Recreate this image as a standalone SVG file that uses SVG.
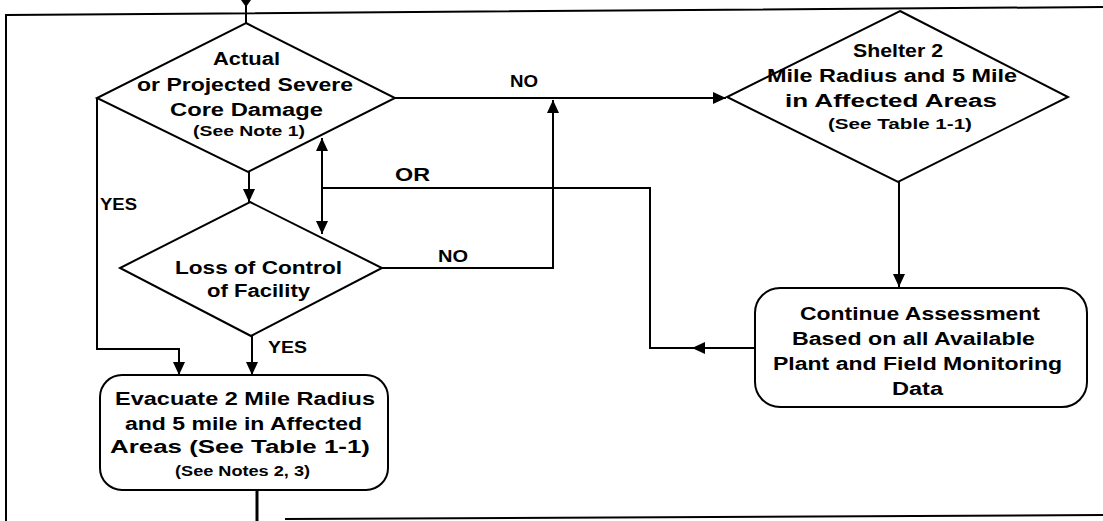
<svg xmlns="http://www.w3.org/2000/svg" width="1103" height="521" viewBox="0 0 1103 521">
<style>
.shape{fill:#fff;stroke:#000;stroke-width:2}
.ln{fill:none;stroke:#000;stroke-width:2}
.t{font-family:"Liberation Sans",Arial,sans-serif;font-weight:bold;font-size:18px;fill:#000}
.s{font-size:14px}
.l{font-size:16px}
</style>
<defs>
<marker id="ah" markerUnits="userSpaceOnUse" markerWidth="14" markerHeight="12" refX="13" refY="6" orient="auto">
<path d="M0,0 L13,6 L0,12 z" fill="#000"/>
</marker>
</defs>
<rect width="1103" height="521" fill="#fff"/>
<g id="frame">
<path class="ln" d="M6,521 V15 L1103,7"/>
<path class="ln" d="M285,519 L1103,515"/>
</g>
<g id="connectors">
<path class="ln" d="M246,0 V23"/>
<path d="M241,0 L251,0 L246,7 z" fill="#000"/>
<path class="ln" d="M249,172 V202" marker-end="url(#ah)"/>
<path class="ln" d="M97,98 V349 H179 V375" marker-end="url(#ah)"/>
<path class="ln" d="M252,336 V375" marker-end="url(#ah)"/>
<path class="ln" d="M395,98 H726" marker-end="url(#ah)"/>
<path class="ln" d="M382,268 H553 V100" marker-end="url(#ah)"/>
<path class="ln" d="M755,348 H650 V188 H322"/>
<path class="ln" d="M755,348 H692" marker-end="url(#ah)"/>
<path class="ln" d="M322,188 V138" marker-end="url(#ah)"/>
<path class="ln" d="M322,188 V234" marker-end="url(#ah)"/>
<path class="ln" d="M899,182 V287" marker-end="url(#ah)"/>
<path class="ln" d="M257,490 V521" style="stroke-width:3"/>
<text class="t l" x="100" y="210" textLength="37" lengthAdjust="spacingAndGlyphs">YES</text>
<text class="t l" x="268" y="353" textLength="39" lengthAdjust="spacingAndGlyphs">YES</text>
<text class="t" x="395" y="181" textLength="35" lengthAdjust="spacingAndGlyphs">OR</text>
<text class="t l" x="510" y="87" textLength="28" lengthAdjust="spacingAndGlyphs">NO</text>
<text class="t l" x="438" y="262" textLength="30" lengthAdjust="spacingAndGlyphs">NO</text>
</g>
<g id="core-damage">
<polygon class="shape" points="246,23 395,98 248,172 97,98"/>
<text class="t" x="213" y="65" textLength="67" lengthAdjust="spacingAndGlyphs">Actual</text>
<text class="t" x="137" y="91" textLength="216" lengthAdjust="spacingAndGlyphs">or Projected Severe</text>
<text class="t" x="170" y="116" textLength="153" lengthAdjust="spacingAndGlyphs">Core Damage</text>
<text class="t s" x="193" y="136" textLength="112" lengthAdjust="spacingAndGlyphs">(See Note 1)</text>
</g>
<g id="loss-of-control">
<polygon class="shape" points="250,202 382,268 251,336 120,268"/>
<text class="t" x="175" y="274" textLength="167" lengthAdjust="spacingAndGlyphs">Loss of Control</text>
<text class="t" x="207" y="297" textLength="103" lengthAdjust="spacingAndGlyphs">of Facility</text>
</g>
<g id="shelter">
<polygon class="shape" points="900,11 1068,97 898,182 727,97"/>
<text class="t" x="853" y="57" textLength="90" lengthAdjust="spacingAndGlyphs">Shelter 2</text>
<text class="t" x="767" y="82" textLength="250" lengthAdjust="spacingAndGlyphs">Mile Radius and 5 Mile</text>
<text class="t" x="785" y="107" textLength="212" lengthAdjust="spacingAndGlyphs">in Affected Areas</text>
<text class="t s" x="828" y="129" textLength="144" lengthAdjust="spacingAndGlyphs">(See Table 1-1)</text>
</g>
<g id="continue">
<rect class="shape" x="755" y="288" width="332" height="119" rx="25"/>
<text class="t" x="800" y="320" textLength="240" lengthAdjust="spacingAndGlyphs">Continue Assessment</text>
<text class="t" x="792" y="345" textLength="243" lengthAdjust="spacingAndGlyphs">Based on all Available</text>
<text class="t" x="773" y="370" textLength="289" lengthAdjust="spacingAndGlyphs">Plant and Field Monitoring</text>
<text class="t" x="892" y="395" textLength="51" lengthAdjust="spacingAndGlyphs">Data</text>
</g>
<g id="evacuate">
<rect class="shape" x="100" y="375" width="288" height="115" rx="22"/>
<text class="t" x="115" y="405" textLength="260" lengthAdjust="spacingAndGlyphs">Evacuate 2 Mile Radius</text>
<text class="t" x="125" y="430" textLength="237" lengthAdjust="spacingAndGlyphs">and 5 mile in Affected</text>
<text class="t" x="110" y="453" textLength="260" lengthAdjust="spacingAndGlyphs">Areas (See Table 1-1)</text>
<text class="t s" x="175" y="476" textLength="135" lengthAdjust="spacingAndGlyphs">(See Notes 2, 3)</text>
</g>
</svg>
